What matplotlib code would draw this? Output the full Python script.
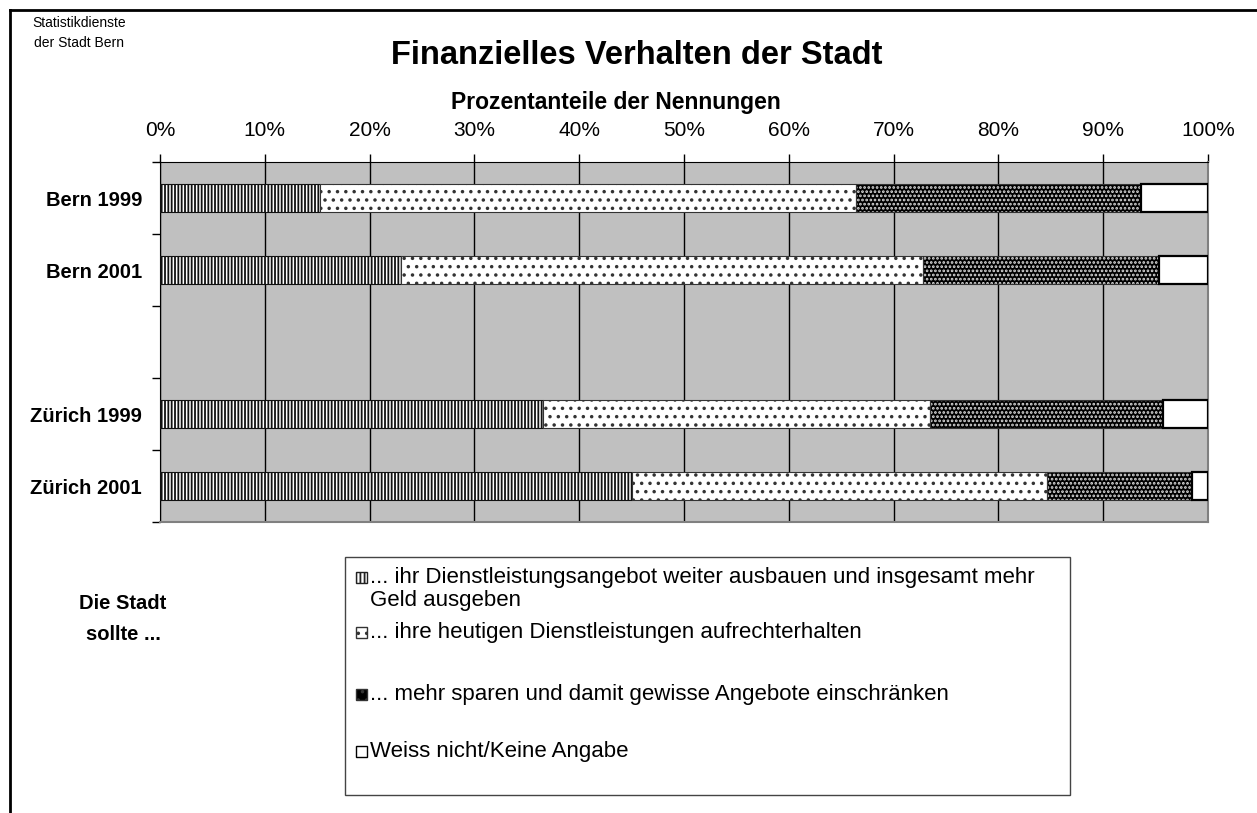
import numpy as np
import matplotlib.pyplot as plt
from matplotlib.patches import Rectangle
from matplotlib.lines import Line2D

plt.rcParams['font.family'] = ['Liberation Sans', 'DejaVu Sans']
plt.rcParams['hatch.linewidth'] = 1.3

# data: percentages per answer
gruppen = ['Bern 1999', 'Bern 2001', 'Zürich 1999', 'Zürich 2001']
ausbauen = [15.3, 23.0, 36.5, 45.0]
erhalten = [51.1, 49.8, 37.0, 39.6]
sparen = [27.2, 22.5, 22.2, 13.9]
keine_angabe = [6.4, 4.7, 4.3, 1.5]

legend_labels = [
    '... ihr Dienstleistungsangebot weiter ausbauen und insgesamt mehr\nGeld ausgeben',
    '... ihre heutigen Dienstleistungen aufrechterhalten',
    '... mehr sparen und damit gewisse Angebote einschränken',
    'Weiss nicht/Keine Angabe',
]

W, H = 1257, 813
fig = plt.figure(figsize=(W / 100, H / 100), dpi=100)


def fx(px):
    return px / W


def fy(py):
    return 1 - py / H


# outer frame (left and top edge visible)
fig.add_artist(Line2D([fx(10), fx(10)], [fy(10), 0], color='black', lw=2))
fig.add_artist(Line2D([fx(10), 1], [fy(10), fy(10)], color='black', lw=2))

ax = fig.add_axes([fx(160), fy(522), fx(1208) - fx(160), fy(162) - fy(522)])
ax.set_facecolor('#c0c0c0')

# categorical slots, third slot left empty
pos = np.array([0, 1, 3, 4])
h = 0.4
left = np.zeros(4)

ax.barh(pos, ausbauen, left=left, height=h, color='white', edgecolor='#111111',
        hatch='|||||', linewidth=0.8, zorder=3)
left = left + np.array(ausbauen)
ax.barh(pos, erhalten, left=left, height=h, color='white', edgecolor='#333333',
        hatch='..', linewidth=0.8, zorder=3)
left = left + np.array(erhalten)
ax.barh(pos, sparen, left=left, height=h, color='black', edgecolor='#dddddd',
        hatch='....', linewidth=0, zorder=3)
ax.barh(pos, sparen, left=left, height=h, fill=False, edgecolor='#333333',
        linewidth=0.8, zorder=4)
left = left + np.array(sparen)
ax.barh(pos, keine_angabe, left=left, height=h, color='white', edgecolor='black',
        linewidth=1.6, zorder=4)

ax.set_xlim(0, 100)
ax.set_ylim(4.5, -0.5)
ax.set_xticks(np.arange(0, 101, 10))
ax.set_xticklabels([f'{v}%' for v in range(0, 101, 10)], fontsize=15)
ax.xaxis.tick_top()
ax.tick_params(axis='x', direction='out', length=6, width=1, pad=10)
ax.grid(axis='x', color='black', linewidth=1, zorder=1)

ax.set_yticks(pos)
ax.set_yticklabels(gruppen, fontsize=14.5, fontweight='bold')
ax.tick_params(axis='y', length=0, pad=13)
ax.set_yticks(np.arange(-0.5, 5.0, 1.0), minor=True)
ax.tick_params(axis='y', which='minor', length=6, width=1, direction='out')

for s in ['top', 'left']:
    ax.spines[s].set_color('black')
for s in ['right', 'bottom']:
    ax.spines[s].set_color('#808080')
    ax.spines[s].set_linewidth(1.5)

# texts
fig.text(fx(79), fy(33), 'Statistikdienste\nder Stadt Bern', fontsize=10,
         ha='center', va='center', linespacing=1.55)
fig.text(fx(637), fy(55), 'Finanzielles Verhalten der Stadt', fontsize=23.5,
         fontweight='bold', ha='center', va='center')
fig.text(fx(616), fy(102), 'Prozentanteile der Nennungen', fontsize=16.5,
         fontweight='bold', ha='center', va='center')
fig.text(fx(123), fy(619), 'Die Stadt\nsollte ...', fontsize=14.5,
         fontweight='bold', ha='center', va='center', linespacing=1.75)

# legend box drawn by hand to keep Excel-like spacing
fig.add_artist(Rectangle((fx(345), fy(795)), fx(1070) - fx(345), fy(557) - fy(795),
                         transform=fig.transFigure, fill=False, edgecolor='#444444', lw=1))
leg_styles = [
    dict(facecolor='white', edgecolor='#222222', hatch='||||'),
    dict(facecolor='white', edgecolor='#333333', hatch='..'),
    dict(facecolor='black', edgecolor='#333333', hatch='..'),
    dict(facecolor='white', edgecolor='black', hatch=None),
]
leg_y = [578, 633, 695, 752]
for lab, st, yy in zip(legend_labels, leg_styles, leg_y):
    fig.add_artist(Rectangle((fx(356), fy(yy + 5)), fx(11), fy(0) - fy(11),
                             transform=fig.transFigure, lw=1, **st))
    fig.text(fx(370), fy(yy - 11), lab, fontsize=16, ha='left', va='top', linespacing=1.12)

fig.savefig('out.png', dpi=100)
